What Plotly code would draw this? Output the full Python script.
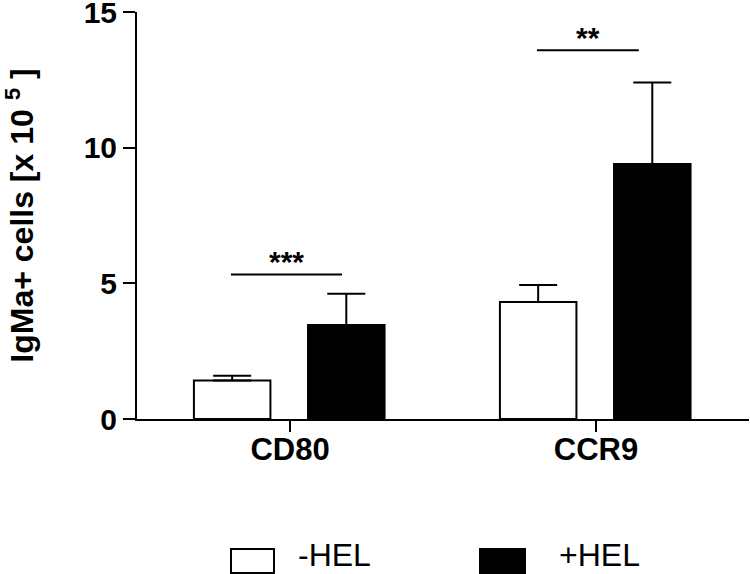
import plotly.graph_objects as go

categories = ["CD80", "CCR9"]
minus_hel = [1.42, 4.31]
minus_hel_err = [0.17, 0.63]
plus_hel = [3.46, 9.40]
plus_hel_err = [1.16, 3.00]
sig_labels = ["***", "**"]
sig_y = [5.33, 13.59]
y_ticks = [0, 5, 10, 15]

FONT = "Arial, Liberation Sans, sans-serif"
xidx = list(range(len(categories)))

PLOT_L, PLOT_R, PLOT_T, PLOT_B = 137, 749, 12, 419
PW, PH = PLOT_R - PLOT_L, PLOT_B - PLOT_T


def px_x(px):
    return (px - PLOT_L) / PW


def px_y(py):
    return (PLOT_B - py) / PH


fig = go.Figure()
fig.add_trace(go.Bar(
    x=xidx, y=minus_hel, name="-HEL", width=0.25, offset=-0.314,
    marker=dict(color="white", line=dict(color="black", width=2)),
    error_y=dict(type="data", array=minus_hel_err, arrayminus=[0, 0], symmetric=False,
                 color="black", thickness=2, width=19),
    showlegend=False,
))
fig.add_trace(go.Bar(
    x=xidx, y=plus_hel, name="+HEL", width=0.25, offset=0.059,
    marker=dict(color="black", line=dict(color="black", width=2)),
    error_y=dict(type="data", array=plus_hel_err, arrayminus=[0, 0], symmetric=False,
                 color="black", thickness=2, width=19),
    showlegend=False,
))

shapes = []
annotations = []
sig_x0 = [-0.193, -0.193]
sig_x1 = [0.17, 0.14]
for i in xidx:
    shapes.append(dict(type="line", xref="x", yref="y", x0=i + sig_x0[i], x1=i + sig_x1[i],
                       y0=sig_y[i], y1=sig_y[i], line=dict(color="black", width=2)))
    annotations.append(dict(x=i + (sig_x0[i] + sig_x1[i]) / 2, y=sig_y[i], xref="x", yref="y",
                            text=sig_labels[i], showarrow=False, yanchor="bottom", yshift=-6,
                            font=dict(family=FONT, size=30, color="black", weight="bold")))

# custom legend (large swatches like the original)
legend_items = [("-HEL", "white", 231, 43, 297), ("+HEL", "black", 480, 45, 558)]
for name, col, px, bw, tx in legend_items:
    shapes.append(dict(type="rect", xref="paper", yref="paper",
                       x0=px_x(px), x1=px_x(px + bw),
                       y0=px_y(549), y1=px_y(573),
                       fillcolor=col, line=dict(color="black", width=2)))
    annotations.append(dict(xref="paper", yref="paper", x=px_x(tx),
                            y=px_y(574), text=name, showarrow=False,
                            xanchor="left", yanchor="bottom", borderpad=0,
                            font=dict(family=FONT, size=32, color="black")))

fig.update_layout(
    width=750, height=574,
    margin=dict(l=PLOT_L, r=750 - PLOT_R, t=PLOT_T, b=574 - PLOT_B),
    plot_bgcolor="white", paper_bgcolor="white",
    shapes=shapes, annotations=annotations,
    font=dict(family=FONT, color="black"),
    xaxis=dict(range=[-0.5, 1.5], tickmode="array", tickvals=xidx, ticktext=categories,
               showline=True, linecolor="black", linewidth=2, ticks="outside",
               ticklen=11, tickwidth=2, tickcolor="black", showgrid=False, zeroline=False,
               automargin=False, ticklabeloverflow="allow", ticklabelstandoff=-9,
               tickfont=dict(family=FONT, size=31, color="black", weight="bold")),
    yaxis=dict(range=[0, 15], tickmode="array", tickvals=y_ticks, showline=True,
               linecolor="black", linewidth=2, ticks="outside", ticklen=12, tickwidth=2,
               tickcolor="black", showgrid=False, zeroline=False, automargin=False,
               ticklabeloverflow="allow",
               tickfont=dict(family=FONT, size=30, color="black", weight="bold"),
               title=dict(text="IgMa+ cells [x 10 <sup>5</sup> ]", standoff=43,
                          font=dict(family=FONT, size=32, color="black", weight="bold"))),
)

fig.write_html("out.html", config={"displayModeBar": False},
               post_script="document.body.style.margin='0';")
